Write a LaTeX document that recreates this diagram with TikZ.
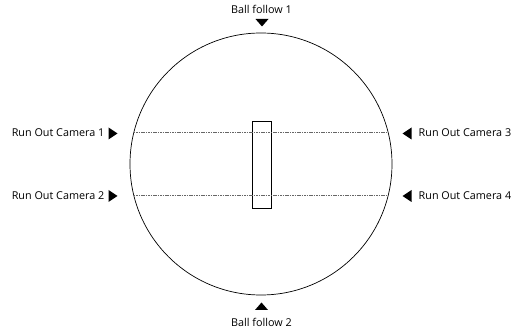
\documentclass[tikz,border=0pt]{standalone}
\usepackage{fontspec}
\setmainfont{Open Sans}
\usetikzlibrary{calc}

\tikzset{
  lbl/.style={font=\fontsize{10.8}{12}\selectfont, inner sep=0pt},
  pointer/.style={fill=black, draw=none},
  runline/.style={line width=0.4pt, gray!80!black, dash pattern=on 1.6pt off 0.8pt},
}

\begin{document}
\begin{tikzpicture}[x=1pt, y=-1pt]
  \useasboundingbox (0,0) rectangle (520,331);
  % Field
  \node[draw, circle, line width=0.7pt, minimum size=262pt, inner sep=0pt] (field) at (261,164) {};
  % Pitch
  \node[draw, line width=0.6pt, minimum width=19pt, minimum height=87pt, inner sep=0pt] (pitch) at (261.5,164.5) {};
  % Run out lines (half chord lengths worked out for r=131)
  \coordinate (r1) at ($(field.center)+(0,-31.3)$);
  \coordinate (r2) at ($(field.center)+(0,31)$);
  \draw[runline] ($(r1)+(-127.2,0)$) -- ($(r1)+(127.2,0)$);
  \draw[runline] ($(r2)+(-127.3,0)$) -- ($(r2)+(127.3,0)$);
  % Camera markers, left
  \fill[pointer] (108.5,127.5) -- (117.5,133.5) -- (108.5,139.5) -- cycle;
  \fill[pointer] (108.5,190) -- (117.5,196) -- (108.5,202) -- cycle;
  \node[lbl, anchor=east] (cam1) at (104.5,133) {Run Out Camera 1};
  \node[lbl, anchor=east] (cam2) at (104.5,196) {Run Out Camera 2};
  % Camera markers, right
  \fill[pointer] (411.5,127.5) -- (402.5,133.5) -- (411.5,139.5) -- cycle;
  \fill[pointer] (411.5,190) -- (402.5,196) -- (411.5,202) -- cycle;
  \node[lbl, anchor=west] (cam3) at (418.5,133) {Run Out Camera 3};
  \node[lbl, anchor=west] (cam4) at (418.5,196) {Run Out Camera 4};
  % Ball follow
  \fill[pointer] (255.5,19) -- (268.5,19) -- (262,26.5) -- cycle;
  \fill[pointer] (255,310) -- (268,310) -- (261.5,302.5) -- cycle;
  \node[lbl] (bf1) at (261.5,9) {Ball follow 1};
  \node[lbl] (bf2) at (261.5,322.5) {Ball follow 2};
\end{tikzpicture}
\end{document}
